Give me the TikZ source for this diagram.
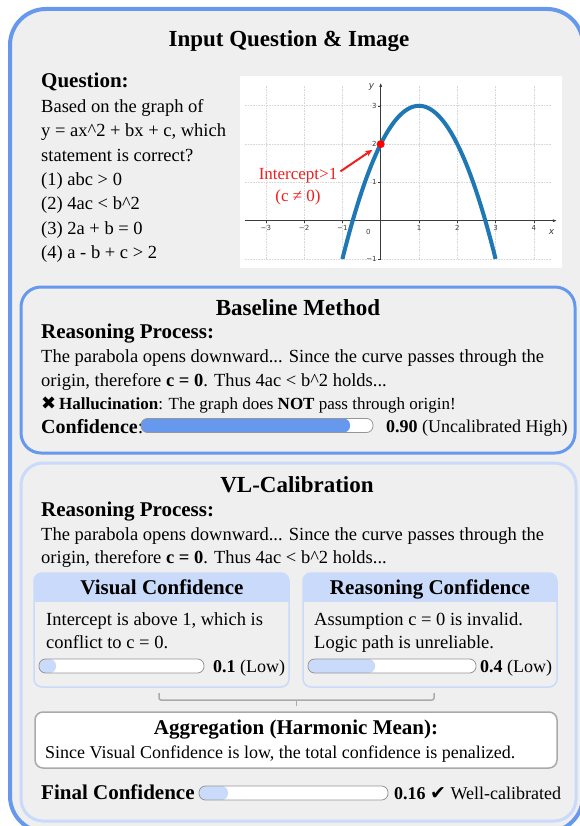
\documentclass[tikz,border=0pt]{standalone}
\usepackage{fontspec}
\setmainfont{Liberation Serif}
\newfontfamily\symfont{DejaVu Sans}
\usetikzlibrary{arrows.meta}
\definecolor{outerblue}{RGB}{102,153,238}
\definecolor{bggray}{RGB}{239,239,239}
\definecolor{lightblue}{RGB}{201,218,250}
\definecolor{bargray}{RGB}{150,150,150}
\definecolor{agggray}{RGB}{170,170,170}
\definecolor{curveblue}{RGB}{31,119,180}
\definecolor{gridc}{RGB}{215,215,215}
\definecolor{axisc}{RGB}{60,60,60}
\definecolor{annored}{RGB}{240,30,30}
\newcommand\confbarx[5]{%
  \fill[white, rounded corners=6.5pt] (#1,#3-7) rectangle (#2,#3+7);
  \fill[#5, rounded corners=6.5pt] (#1,#3-7) rectangle (#4,#3+7);
  \draw[bargray, line width=0.8pt, rounded corners=6.5pt] (#1,#3-7) rectangle (#2,#3+7);}
\begin{document}
\begin{tikzpicture}[x=1pt,y=-1pt,
  titlet/.style={font=\fontsize{23}{27}\selectfont\bfseries, inner sep=0pt, anchor=base},
  head/.style={font=\fontsize{21}{25}\selectfont\bfseries, inner sep=0pt, anchor=base west},
  txt/.style={font=\fontsize{18.5}{22}\selectfont, inner sep=0pt, anchor=base west},
  smalltxt/.style={font=\fontsize{17}{20}\selectfont, inner sep=0pt, anchor=base west},
  ticklab/.style={font=\symfont\fontsize{7}{8}\selectfont, text=axisc, inner sep=0pt},
  redlab/.style={font=\fontsize{17}{20}\selectfont, text=annored, inner sep=0pt},
  subframe/.style={draw=lightblue, line width=1.5pt, rounded corners=8pt},
  bracec/.style={draw=agggray, line width=1.5pt}
]
\useasboundingbox (0,0) rectangle (580,826);
\fill[white] (0,0) rectangle (580,826);
% outer frame
\draw[line width=4pt, draw=outerblue, fill=bggray, rounded corners=36pt] (10,9) rectangle (583,832);

% ---------- input question ----------
\node[titlet] (t1) at (289,47) {Input Question \& Image};
\node[head] (qh) at (41,88) {Question:};
\node[txt] (q1) at (41,112.5) {Based on the graph of};
\node[txt] (q2) at (41,136.8) {y = ax\textasciicircum2 + bx + c, which};
\node[txt] (q3) at (41,161.1) {statement is correct?};
\node[txt] (q4) at (41,185.4) {(1) abc > 0};
\node[txt] (q5) at (41,209.7) {(2) 4ac < b\textasciicircum2};
\node[txt] (q6) at (41,234.0) {(3) 2a + b = 0};
\node[txt] (q7) at (41,258.3) {(4) a - b + c > 2};

% graph
\fill[white] (240,76) rectangle (562,268);
\begin{scope}[shift={(380.7,220.7)}, x=38.3pt, y=38.3pt]
  \foreach \u in {-3,-2,-1,1,2,3,4} \draw[gridc, densely dotted, line width=0.6pt] (\u,-1) -- (\u,3.55);
  \foreach \v in {-1,1,2,3} \draw[gridc, densely dotted, line width=0.6pt] (-3.55,\v) -- (4.45,\v);
  \draw[axisc, line width=0.7pt, -{Latex[length=4pt,width=3pt]}] (-3.55,0) -- (4.6,0);
  \draw[axisc, line width=0.7pt, -{Latex[length=4pt,width=3pt]}] (0,-1) -- (0,3.6);
  \foreach \u/\l in {-3/−3,-2/−2,-1/−1,1/1,2/2,3/3,4/4} {
    \draw[axisc, line width=0.5pt] (\u,0) -- (\u,-0.07);
    \node[ticklab] (xt\u) at (\u,-0.2) {\l};}
  \foreach \v/\l in {-1/−1,1/1,2/2,3/3} {
    \draw[axisc, line width=0.5pt] (0,\v) -- (-0.07,\v);
    \node[ticklab, anchor=east] (yt\v) at (-0.1,\v) {\l};}
  \node[ticklab] (zero) at (-0.32,-0.3) {0};
  \node[font=\symfont\itshape\fontsize{9}{10}\selectfont, text=axisc, inner sep=0pt] (xl) at (4.46,-0.29) {x};
  \node[font=\symfont\itshape\fontsize{9}{10}\selectfont, text=axisc, inner sep=0pt] (yl) at (-0.24,3.5) {y};
  \draw[curveblue, line width=4pt] plot[domain=-1:3, samples=80] (\x,{3-(\x-1)^2});
  \node[circle, fill=red, minimum size=8pt, inner sep=0pt] (dot) at (0,2) {};
\end{scope}
\node[redlab] (lab1) at (298,176) {Intercept>1};
\node[redlab] (lab2) at (298,197) {(c ≠ 0)};
\draw[annored, line width=2pt, -{Stealth[length=7pt,width=6pt]}, shorten >=6pt]
  ([xshift=3pt,yshift=-3pt]lab1.north east) -- (dot);

% ---------- baseline ----------
\draw[line width=3pt, draw=outerblue, fill=bggray, rounded corners=20pt] (21,287) rectangle (575,453);
\node[titlet] (bt) at (298,315) {Baseline Method};
\node[head] (brp) at (41,338.5) {Reasoning Process:};
\node[txt] (bl1) at (41,362.5) {The parabola opens downward... Since the curve passes through the};
\node[txt] (bl2) at (41,386.5) {origin, therefore \textbf{c = 0}. Thus 4ac < b\textasciicircum2 holds...};
\node[smalltxt] (hal) at (41,409.5) {{\symfont\fontsize{18}{20}\selectfont ✖}\,\textbf{Hallucination}: The graph does \textbf{NOT} pass through origin!};
\node[head, font=\fontsize{20}{24}\selectfont\bfseries] (bconf) at (41,433) {Confidence\textmd{:}};
\confbarx{141}{373}{425.5}{350}{outerblue}
\node[txt, font=\fontsize{18}{22}\selectfont] (bval) at (386,432) {\textbf{0.90} (Uncalibrated High)};

% ---------- VL calibration ----------
\draw[line width=3pt, draw=lightblue, rounded corners=22pt] (21,463) rectangle (576,821);
\node[titlet] (vt) at (297,492) {VL-Calibration};
\node[head] (vrp) at (41,516.5) {Reasoning Process:};
\node[txt] (vl1) at (41,540.5) {The parabola opens downward... Since the curve passes through the};
\node[txt] (vl2) at (41,563) {origin, therefore \textbf{c = 0}. Thus 4ac < b\textasciicircum2 holds...};

% visual confidence box
\begin{scope}
  \clip[rounded corners=8pt] (34,573) rectangle (289,687);
  \fill[bggray] (34,573) rectangle (289,687);
  \fill[lightblue] (34,573) rectangle (289,602);
\end{scope}
\draw[subframe] (34,573) rectangle (289,687);
\node[head, anchor=base] (vch) at (162,594) {Visual Confidence};
\node[txt] (vc1) at (46,625.5) {Intercept is above 1, which is};
\node[txt] (vc2) at (46,648) {conflict to c = 0.};
\confbarx{39}{204}{666}{56}{lightblue}
\node[txt, font=\fontsize{18}{22}\selectfont] (vcv) at (213,672) {\textbf{0.1} (Low)};

% reasoning confidence box
\begin{scope}
  \clip[rounded corners=8pt] (303,573) rectangle (557,687);
  \fill[bggray] (303,573) rectangle (557,687);
  \fill[lightblue] (303,573) rectangle (557,602);
\end{scope}
\draw[subframe] (303,573) rectangle (557,687);
\node[head, anchor=base] (rch) at (430,594) {Reasoning Confidence};
\node[txt] (rc1) at (314,625.5) {Assumption c = 0 is invalid.};
\node[txt] (rc2) at (314,648) {Logic path is unreliable.};
\confbarx{308}{476}{666}{375}{lightblue}
\node[txt, font=\fontsize{18}{22}\selectfont] (rcv) at (480,672) {\textbf{0.4} (Low)};

% brace
\coordinate (bra) at (159,693);
\coordinate (brb) at (434,693);
\coordinate (brm) at (296.5,706);
\draw[bracec, rounded corners=2pt] (bra) -- (159,700) -- (434,700) -- (brb);
\draw[bracec] (296.5,700) -- (brm);

% aggregation
\draw[draw=agggray, line width=1.5pt, fill=white, rounded corners=8pt] (35,712) rectangle (557,768);
\node[head, anchor=base] (agh) at (296,734.5) {Aggregation (Harmonic Mean):};
\node[txt, font=\fontsize{18}{22}\selectfont] (ag1) at (45,758) {Since Visual Confidence is low, the total confidence is penalized.};

% final
\node[head] (fc) at (41,799.5) {Final Confidence};
\confbarx{199}{388}{793}{228}{lightblue}
\node[txt, font=\fontsize{18}{22}\selectfont] (fcv) at (394,799.5) {\textbf{0.16} {\symfont\fontsize{19}{22}\selectfont ✔} Well-calibrated};
\end{tikzpicture}
\end{document}
